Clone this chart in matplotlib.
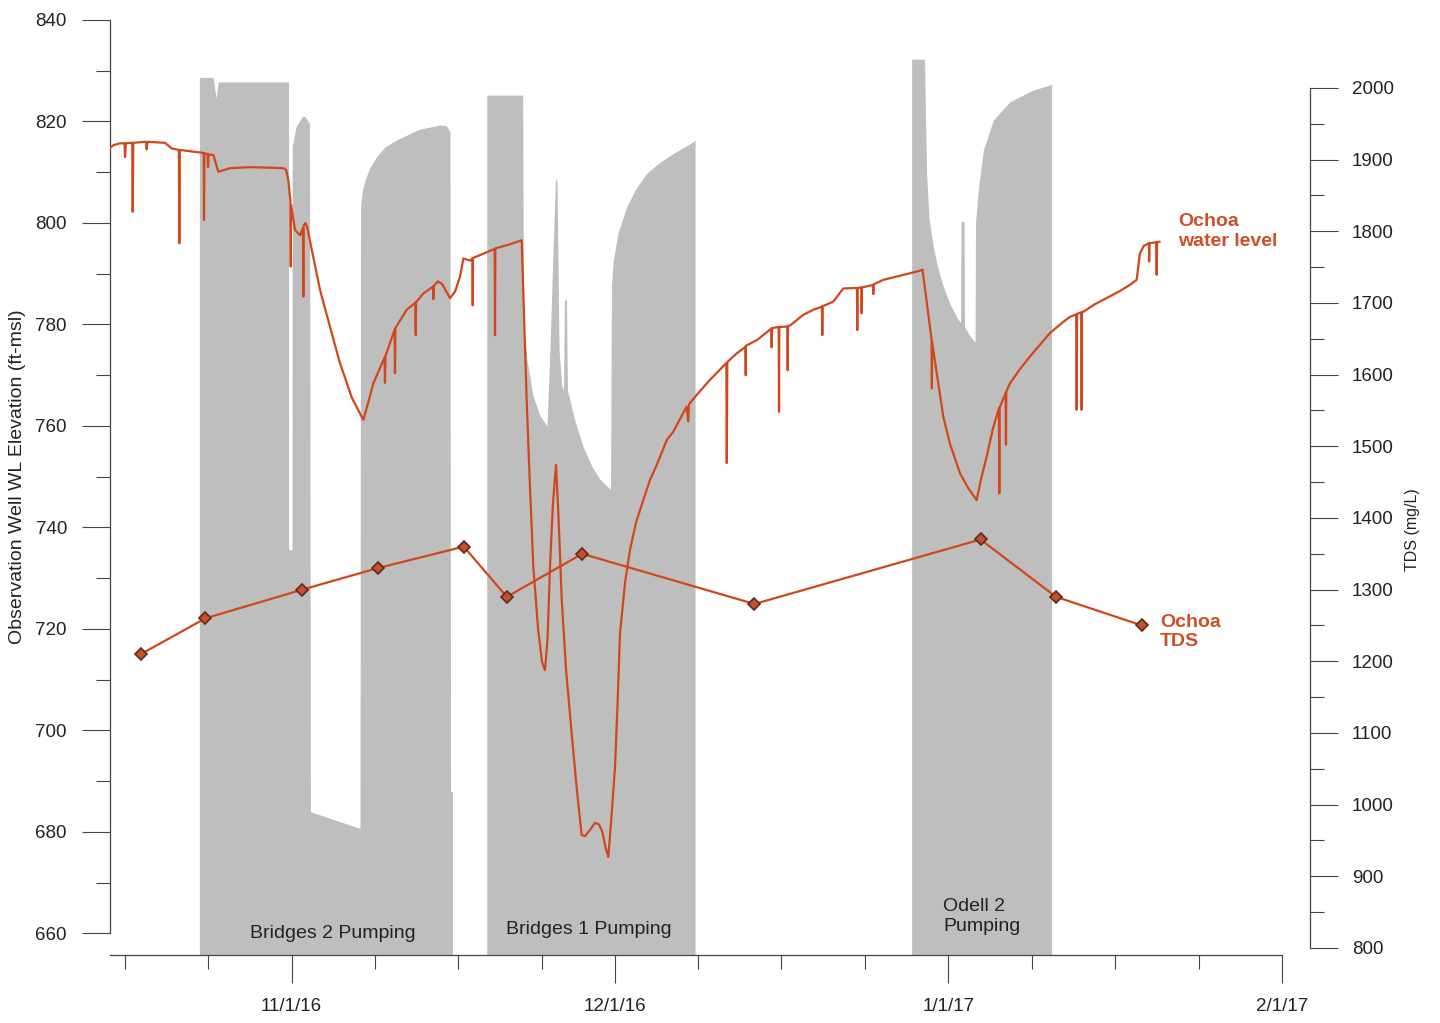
import matplotlib.pyplot as plt
import matplotlib.dates as mdates
import numpy as np
import pandas as pd

plt.rcParams['font.family'] = ['Liberation Sans', 'DejaVu Sans']

# all day offsets are days after 11/1/16
start = pd.Timestamp('2016-11-01')

# Ochoa water level (ft-msl)
wl_day = [-16.92, -16.58, -15.93, -15.51, -15.46, -15.39, -14.79, -14.75, -14.70, -13.51,
          -13.45, -13.39, -11.75, -11.13, -10.46, -10.42, -10.38, -8.50, -8.15, -8.13,
          -8.09, -7.80, -7.75, -7.71, -7.26, -6.80, -5.71, -3.85, -2.00, -0.76,
          -0.51, -0.30, -0.11, -0.07, -0.04, 0.33, 0.79, 1.06, 1.10, 1.13,
          1.30, 1.44, 2.65, 3.58, 4.50, 5.62, 6.67, 7.11, 7.60,
          8.64, 8.68, 8.73, 9.58, 9.61, 9.65, 10.70, 11.50, 11.54, 11.57,
          12.24, 13.16, 13.17, 13.21, 13.61, 13.98, 14.72, 15.19, 15.65, 15.96,
          16.58, 16.80, 16.83, 16.86, 18.44, 18.87, 18.90, 18.93, 20.29, 21.38,
          21.59, 21.84, 22.15, 22.46, 22.90, 23.27, 23.54, 23.78, 24.01, 24.29,
          24.57, 24.80, 25.10, 25.50, 26.02, 26.52, 26.95, 27.26, 27.72, 28.19,
          28.56, 28.88, 29.16, 29.42, 29.72, 30.05, 30.28, 30.51, 30.97, 31.44,
          32.00, 32.67, 33.30, 33.92, 34.85, 35.46, 36.70, 36.85, 36.92, 37.63,
          38.87, 40.39, 40.43, 40.48, 41.35, 42.16, 42.19, 42.21, 43.21, 43.98,
          44.57, 44.60, 44.63, 45.25, 45.28, 45.31, 46.06, 46.09, 46.11, 46.30,
          47.53, 48.46, 49.27, 49.30, 49.33, 50.32, 51.25, 52.52, 52.55, 52.58,
          52.93, 52.96, 52.99, 54.01, 54.04, 54.07, 54.97, 56.51, 58.37, 58.61,
          59.46, 59.48, 59.50, 60.54, 61.16, 62.09, 62.83, 63.64, 64.04, 64.57,
          65.15, 65.71, 65.74, 65.77, 66.33, 66.36, 66.39, 66.73, 67.66, 68.59,
          69.52, 70.44, 71.56, 72.29, 72.90, 72.93, 72.96, 73.36, 73.39, 73.42,
          73.54, 74.62, 75.71, 76.94, 77.87, 78.50, 78.80, 79.17, 79.64, 79.66,
          79.69, 80.33, 80.36, 80.39, 80.62]
wl_ft = [814.7, 815.3, 815.7, 815.7, 813.0, 815.7, 815.8, 802.2, 815.8, 816.0,
         814.5, 816.0, 815.8, 814.7, 814.4, 796.0, 814.4, 813.9, 813.8, 800.6,
         813.7, 813.6, 811.0, 813.5, 813.4, 810.1, 810.8, 811.0, 810.9, 810.8,
         810.5, 808.5, 804.5, 791.4, 803.5, 798.6, 797.6, 799.0, 785.5, 799.5,
         800.0, 799.3, 786.8, 779.5, 772.4, 765.5, 761.2, 764.5, 768.4,
         773.5, 768.5, 773.8, 779.0, 770.4, 779.3, 782.9, 784.3, 777.9, 784.4,
         786.1, 787.5, 785.0, 787.6, 788.5, 788.0, 785.2, 786.5, 789.4, 793.0,
         792.6, 793.0, 783.8, 793.1, 794.5, 794.9, 777.9, 795.0, 795.8, 796.6,
         782.0, 765.1, 748.0, 732.3, 720.0, 713.5, 711.9, 718.0, 732.3, 745.0,
         752.3, 742.0, 725.7, 712.0, 699.4, 688.0, 679.4, 679.2, 680.4, 681.8,
         681.5, 680.0, 677.0, 675.1, 683.0, 692.9, 705.0, 719.1, 729.0, 735.6,
         741.0, 745.4, 749.4, 752.3, 757.2, 758.9, 763.8, 760.9, 764.3, 766.1,
         769.1, 772.4, 752.7, 772.6, 774.3, 775.6, 770.0, 775.8, 776.9, 778.2,
         779.2, 775.5, 779.3, 779.5, 762.8, 779.5, 779.6, 771.0, 779.7, 779.8,
         781.9, 782.9, 783.5, 777.9, 783.6, 784.5, 787.1, 787.2, 778.9, 787.2,
         787.3, 782.2, 787.3, 787.8, 786.0, 787.9, 788.8, 789.6, 790.6, 790.8,
         776.9, 767.4, 776.5, 761.8, 756.5, 750.7, 747.8, 745.4, 749.5, 754.0,
         759.5, 763.5, 746.7, 763.6, 766.5, 756.3, 766.8, 768.4, 771.2, 773.7,
         776.0, 778.3, 780.3, 781.5, 782.0, 763.2, 782.1, 782.4, 763.2, 782.5,
         782.5, 784.0, 785.2, 786.6, 787.8, 788.8, 794.0, 795.5, 796.0, 792.4,
         796.0, 796.2, 789.8, 796.2, 796.3]

# Ochoa TDS samples (mg/L)
tds_date = ['2016-10-18', '2016-10-24', '2016-11-02', '2016-11-09', '2016-11-17', '2016-11-21',
            '2016-11-28', '2016-12-14', '2017-01-04', '2017-01-11', '2017-01-19']
tds_mgl = [1210, 1260, 1300, 1330, 1360, 1290, 1350, 1280, 1370, 1290, 1250]

# pumping well record (gray), upper envelope per pumping period
b2_day = [-8.56, -7.29, -7.01, -6.80, -0.28, -0.27, 0.05, 0.06, 0.42, 1.00, 1.25, 1.67, 1.76,
          6.36, 6.41, 6.55, 6.83, 7.29, 7.91, 8.68, 9.77, 11.93, 13.79, 14.35, 14.72, 14.77, 14.95]
b2_top = [828.7, 828.7, 824.6, 827.8, 827.8, 735.6, 735.6, 815.0, 819.0, 821.0, 821.0, 819.6, 684.0,
          680.7, 803.2, 806.0, 808.5, 811.0, 813.1, 815.0, 816.4, 818.5, 819.3, 819.2, 818.0, 688.0, 688.0]

b1_day = [18.13, 21.47, 21.55, 21.87, 22.43, 23.08, 23.73, 24.00, 24.30, 24.52, 24.66, 24.85,
          25.10, 25.26, 25.35, 25.54, 25.63, 26.33, 27.07, 27.91, 28.65, 29.63, 29.72, 29.89,
          30.32, 31.13, 32.00, 32.99, 34.23, 35.46, 37.32, 37.48]
b1_top = [825.2, 825.2, 780.0, 773.0, 766.0, 762.0, 760.0, 775.0, 795.0, 808.8, 808.0, 775.0,
          768.0, 767.0, 784.8, 784.8, 767.0, 761.0, 756.0, 752.0, 749.5, 747.5, 788.0, 792.7,
          798.0, 803.2, 806.8, 809.8, 812.0, 813.7, 816.0, 816.3]

od_day = [57.60, 58.79, 58.88, 58.99, 59.21, 59.61, 60.05, 60.54, 61.16, 61.91, 62.14, 62.19,
          62.47, 62.51, 62.93, 63.33, 63.49, 63.53, 63.79, 64.26, 65.19, 66.73, 68.90, 70.44, 70.60]
od_top = [832.3, 832.3, 822.0, 809.8, 801.0, 795.3, 791.0, 787.5, 784.0, 781.0, 780.5, 800.3,
          800.3, 779.5, 778.0, 776.9, 776.5, 800.0, 806.5, 814.4, 820.3, 823.9, 826.2, 827.2, 827.4]


def to_dates(days):
    return start + pd.to_timedelta(np.asarray(days), unit='D')


orange = '#d2461b'
txt = '#222222'
axc = '#444444'

fig = plt.figure(figsize=(14.4, 10.23), dpi=100)
ax = fig.add_axes([110 / 1440, 68 / 1023, 1200 / 1440, 945 / 1023])
ax.set_ylim(655.76, 841.97)
x0 = start + pd.Timedelta(days=-16.86)
x1 = start + pd.Timedelta(days=94.6)
ax.set_xlim(x0, x1)

base = ax.get_ylim()[0]
for d, t in [(b2_day, b2_top), (b1_day, b1_top), (od_day, od_top)]:
    ax.fill_between(to_dates(d), t, base, color='#bebebe', lw=0, zorder=1)

ax.plot(to_dates(wl_day), wl_ft, color=orange, lw=1.6, zorder=3)

# axes styling
for s in ['top', 'right']:
    ax.spines[s].set_visible(False)
ax.spines['left'].set_bounds(660, 840)
ax.spines['bottom'].set_bounds(mdates.date2num(x0), mdates.date2num(pd.Timestamp('2017-02-01')))
for s in ['left', 'bottom']:
    ax.spines[s].set_color(axc)
    ax.spines[s].set_linewidth(0.9)

ax.set_yticks(np.arange(660, 841, 20))
ax.set_yticks(np.arange(660, 841, 10), minor=True)

months = pd.to_datetime(['2016-10-01', '2016-11-01', '2016-12-01', '2017-01-01'])
majors = pd.to_datetime(['2016-11-01', '2016-12-01', '2017-01-01', '2017-02-01'])
minors = [m + pd.Timedelta(days=7.75 * k) for m in months for k in (1, 2, 3)]
minors = [m for m in minors if m > x0]
ax.set_xticks(majors, ['11/1/16', '12/1/16', '1/1/17', '2/1/17'])
ax.set_xticks(minors, minor=True)

ax.tick_params(which='major', length=20, width=0.8, color=axc, labelsize=13.5,
               labelcolor=txt, pad=11)
ax.tick_params(which='minor', length=10, width=0.8, color=axc)

# TDS on right axis
tw = ax.twinx()
tw.set_ylim(790.2, 2108.8)
tw.plot(pd.to_datetime(tds_date), tds_mgl, color=orange, lw=1.6, marker='D', ms=6.5,
        mfc='#c4502c', mec='#5b2b1f', mew=1.2, zorder=4)
for s in ['top', 'left', 'bottom']:
    tw.spines[s].set_visible(False)
tw.spines['right'].set_bounds(800, 2000)
tw.spines['right'].set_color(axc)
tw.spines['right'].set_linewidth(0.9)
tw.set_yticks(np.arange(800, 2001, 100))
tw.set_yticks(np.arange(800, 2001, 50), minor=True)
tw.tick_params(which='major', length=20, width=0.8, color=axc, labelsize=13.5,
               labelcolor=txt, pad=10)
tw.tick_params(which='minor', length=10, width=0.8, color=axc)

# labels
fig.text(18 / 1440, 1 - 477 / 1023, 'Observation Well WL Elevation (ft-msl)', rotation=90,
         ha='center', va='center', fontsize=14, color=txt)
fig.text(1413 / 1440, 1 - 530 / 1023, 'TDS (mg/L)', rotation=90,
         ha='center', va='center', fontsize=11.5, color=txt)

ax.text(start + pd.Timedelta(days=3.85), 659.9, 'Bridges 2 Pumping', ha='center', va='center',
        fontsize=14, color=txt, zorder=5)
ax.text(start + pd.Timedelta(days=27.63), 660.7, 'Bridges 1 Pumping', ha='center', va='center',
        fontsize=14, color=txt, zorder=5)
ax.text(start + pd.Timedelta(days=60.51), 663.4, 'Odell 2\nPumping', ha='left', va='center',
        fontsize=14, color=txt, zorder=5)
ax.text(start + pd.Timedelta(days=82.33), 798.3, 'Ochoa\nwater level', ha='left', va='center',
        fontsize=14, color='#cf4f25', fontweight='bold', zorder=5)
ax.text(start + pd.Timedelta(days=80.66), 719.4, 'Ochoa\nTDS', ha='left', va='center',
        fontsize=14, color='#cf4f25', fontweight='bold', zorder=5)

fig.savefig('out.png', dpi=100)
